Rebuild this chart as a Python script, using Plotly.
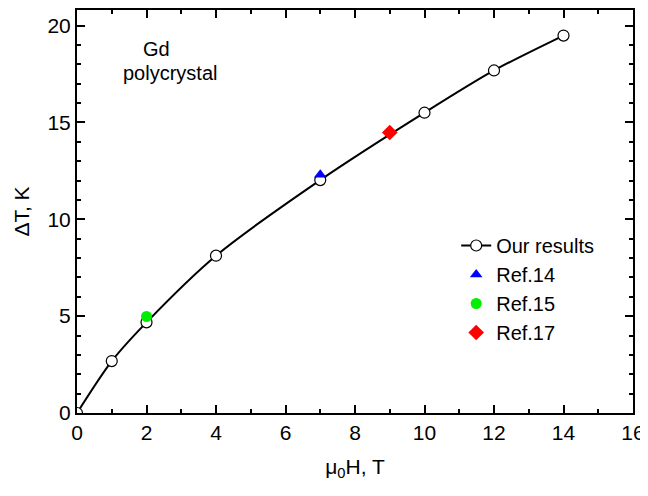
import plotly.graph_objects as go

field_T = [0, 1, 2, 4, 7, 10, 12, 14]
dT_ours = [0, 2.68, 4.68, 8.12, 12.02, 15.5, 17.68, 19.48]
ref14_x, ref14_y = [7], [12.3]
ref15_x, ref15_y = [2], [4.98]
ref17_x, ref17_y = [9], [14.48]

FONT = "Liberation Sans, Arial, sans-serif"

fig = go.Figure()
fig.add_trace(go.Scatter(
    x=field_T, y=dT_ours, mode="lines+markers", name="Our results",
    line=dict(color="black", width=2, shape="spline", smoothing=0.8),
    marker=dict(symbol="circle", size=11, color="white", line=dict(color="black", width=1.2)),
))
fig.add_trace(go.Scatter(
    x=ref14_x, y=ref14_y, mode="markers", name="Ref.14",
    marker=dict(symbol="triangle-up", size=11, color="#0000ff"),
))
fig.add_trace(go.Scatter(
    x=ref15_x, y=ref15_y, mode="markers", name="Ref.15",
    marker=dict(symbol="circle", size=11, color="#00ee00"),
))
fig.add_trace(go.Scatter(
    x=ref17_x, y=ref17_y, mode="markers", name="Ref.17",
    marker=dict(symbol="diamond", size=12, color="#ff0000"),
))

axis_common = dict(
    showline=True, linecolor="black", linewidth=2, mirror="allticks",
    ticks="inside", ticklen=8, tickwidth=2, tickcolor="black",
    showgrid=False, zeroline=False,
    tickfont=dict(family=FONT, size=21, color="black"),
)

# page has an 8px body margin, so the figure is sized 640x488 and shifted margins
fig.update_layout(
    width=640, height=488,
    margin=dict(l=69, r=15, t=0, b=83),
    paper_bgcolor="white", plot_bgcolor="white",
    font=dict(family=FONT, color="black"),
    xaxis=dict(range=[0, 16], dtick=2, tick0=0,
               minor=dict(ticks="inside", ticklen=4, tickwidth=1.5, tickcolor="black", dtick=1),
               title=dict(text="μ<sub>0</sub>H, T", font=dict(family=FONT, size=21), standoff=16),
               **axis_common),
    yaxis=dict(range=[0, 20.8], dtick=5, tick0=0,
               minor=dict(ticks="inside", ticklen=4, tickwidth=1.5, tickcolor="black", dtick=1),
               title=dict(text="ΔT, K", font=dict(family=FONT, size=21), standoff=12),
               **axis_common),
    legend=dict(x=0.682, y=0.464, xanchor="left", yanchor="top",
                bgcolor="rgba(0,0,0,0)", font=dict(family=FONT, size=20),
                tracegroupgap=0, itemsizing="trace"),
    showlegend=True,
)

fig.add_annotation(x=2.30, y=18.8, xref="x", yref="y", text="Gd", showarrow=False,
                   font=dict(family=FONT, size=20, color="black"))
fig.add_annotation(x=2.68, y=17.56, xref="x", yref="y", text="polycrystal", showarrow=False,
                   font=dict(family=FONT, size=20, color="black"))

fig.write_html("out.html")
